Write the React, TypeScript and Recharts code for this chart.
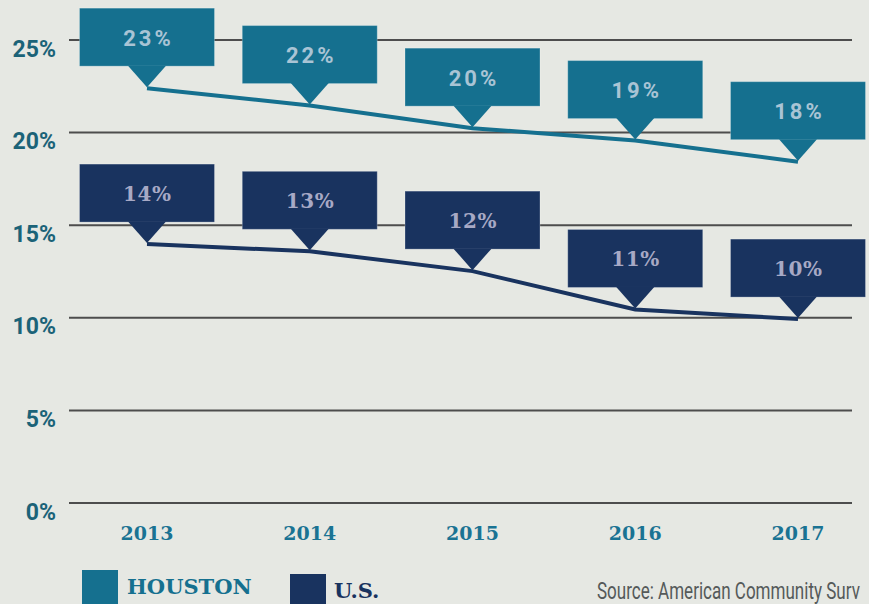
import React from "react";
import { LineChart, Line, XAxis, YAxis, CartesianGrid, LabelList } from "recharts";

const years = ["2013", "2014", "2015", "2016", "2017"];
const houstonValues = [22.4, 21.46, 20.24, 19.57, 18.43];
const usValues = [13.98, 13.59, 12.52, 10.45, 9.93];
const houstonLabels = ["23%", "22%", "20%", "19%", "18%"];
const usLabels = ["14%", "13%", "12%", "11%", "10%"];
const yTicks = [0, 5, 10, 15, 20, 25];

const HOUSTON = "#15708f";
const US = "#19335f";
const BG = "#e6e8e3";

const data = years.map((year, i) => ({
  year,
  houston: houstonValues[i],
  us: usValues[i],
  houstonLabel: houstonLabels[i],
  usLabel: usLabels[i],
}));

const makeCallout = (fill: string, textFill: string, font: string, spacing: number, size: number) =>
  (props: any) => {
    const { x, y, value } = props;
    if (x == null || y == null) return null;
    const w = 135;
    const h = 58;
    const gap = 22;
    const bottom = y - gap;
    const top = bottom - h;
    return (
      <g>
        <rect x={x - w / 2} y={top} width={w} height={h} fill={fill} stroke="rgba(255,255,255,0.25)" strokeWidth={1} />
        <polygon points={`${x - 19},${bottom - 0.5} ${x + 19},${bottom - 0.5} ${x},${y - 1}`} fill={fill} />
        <text
          x={x + spacing / 2}
          y={top + h / 2 + 1}
          textAnchor="middle"
          dominantBaseline="central"
          fill={textFill}
          fontFamily={font}
          fontWeight="bold"
          fontSize={size}
          letterSpacing={spacing}
        >
          {value}
        </text>
      </g>
    );
  };

const HoustonCallout = makeCallout(HOUSTON, "#a9c4d5", "Roboto, sans-serif", 3, 22);
const USCallout = makeCallout(US, "#a7a9c5", "'DejaVu Serif', serif", 0.5, 20);

const YTick = (props: any) => {
  const { x, y, payload } = props;
  return (
    <text
      x={x - 5}
      y={y + 9}
      textAnchor="end"
      dominantBaseline="central"
      fill="#1b6378"
      fontFamily="Roboto, sans-serif"
      fontWeight="bold"
      fontSize={23}
    >
      {payload.value}%
    </text>
  );
};

const XTick = (props: any) => {
  const { x, y, payload } = props;
  return (
    <text
      x={x}
      y={y + 22}
      textAnchor="middle"
      dominantBaseline="central"
      fill="#1a7393"
      fontFamily="'DejaVu Serif', serif"
      fontWeight="bold"
      fontSize={19}
    >
      {payload.value}
    </text>
  );
};

export default function App() {
  return (
    <div
      style={{
        position: "absolute",
        left: 0,
        top: 0,
        width: 869,
        height: 604,
        background: BG,
        overflow: "hidden",
      }}
    >
      <LineChart
        width={869}
        height={604}
        data={data}
        margin={{ top: 40, right: 17, left: 0, bottom: 41 }}
      >
        <CartesianGrid horizontal vertical={false} stroke="#4d4d4d" strokeWidth={2} />
        <XAxis
          dataKey="year"
          axisLine={false}
          tickLine={false}
          height={60}
          padding={{ left: 78, right: 54 }}
          tick={<XTick />}
          interval={0}
        />
        <YAxis
          domain={[0, 25]}
          ticks={yTicks}
          axisLine={false}
          tickLine={false}
          width={69}
          tick={<YTick />}
          interval={0}
        />
        <Line
          type="linear"
          dataKey="houston"
          stroke={HOUSTON}
          strokeWidth={4}
          dot={false}
          isAnimationActive={false}
        >
          <LabelList dataKey="houstonLabel" content={HoustonCallout} />
        </Line>
        <Line
          type="linear"
          dataKey="us"
          stroke={US}
          strokeWidth={4}
          dot={false}
          isAnimationActive={false}
        >
          <LabelList dataKey="usLabel" content={USCallout} />
        </Line>
      </LineChart>
      <div style={{ position: "absolute", left: 82, top: 570, width: 36, height: 34, background: HOUSTON }} />
      <div
        style={{
          position: "absolute",
          left: 127,
          top: 572,
          lineHeight: "30px",
          fontFamily: "'DejaVu Serif', serif",
          fontWeight: "bold",
          fontSize: 21,
          color: HOUSTON,
          whiteSpace: "nowrap",
        }}
      >
        HOUSTON
      </div>
      <div style={{ position: "absolute", left: 290, top: 574, width: 36, height: 34, background: US }} />
      <div
        style={{
          position: "absolute",
          left: 334,
          top: 576,
          lineHeight: "30px",
          fontFamily: "'DejaVu Serif', serif",
          fontWeight: "bold",
          fontSize: 21,
          color: US,
          whiteSpace: "nowrap",
        }}
      >
        U.S.
      </div>
      <div
        style={{
          position: "absolute",
          left: 597,
          top: 577,
          lineHeight: "30px",
          fontFamily: "Roboto, sans-serif",
          fontSize: 23,
          color: "#555a5a",
          whiteSpace: "nowrap",
          transform: "scaleX(0.74)",
          transformOrigin: "left center",
        }}
      >
        Source: American Community Surv
      </div>
    </div>
  );
}
